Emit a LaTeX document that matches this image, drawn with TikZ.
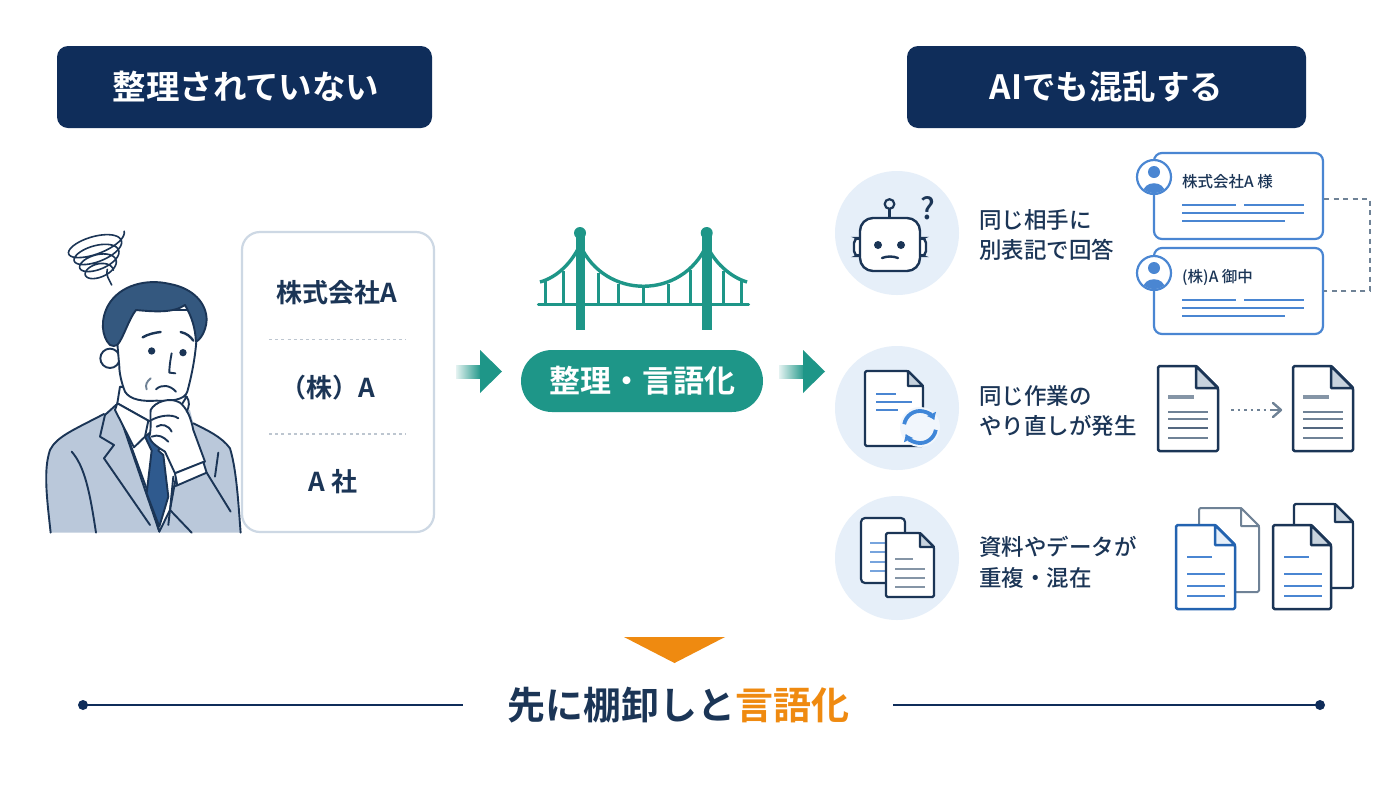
\documentclass[tikz,border=0pt]{standalone}
\usepackage{fontspec}
\setmainfont{Noto Sans CJK JP Medium}[BoldFont={Noto Sans CJK JP Bold}]
\usetikzlibrary{arrows.meta,shadings,calc}
\definecolor{navy}{HTML}{0F2D5A}
\definecolor{inkk}{HTML}{1B3556}
\definecolor{teal1}{HTML}{1E9688}
\definecolor{softb}{HTML}{E6EFF9}
\definecolor{blue1}{HTML}{4A86D2}
\definecolor{blue2}{HTML}{2363B0}
\definecolor{syncb}{HTML}{3F86D8}
\definecolor{edgeg}{HTML}{CDD8E4}
\definecolor{orng}{HTML}{EF8A10}
\definecolor{suit}{HTML}{BAC8DA}
\definecolor{hairc}{HTML}{34587F}
\definecolor{tiec}{HTML}{2F5A8E}
\definecolor{foldg}{HTML}{C8D3DE}
\definecolor{grayl}{HTML}{6F8296}
\newcommand{\fs}[1]{\fontsize{#1}{#1}\selectfont}
\tikzset{
  header/.style={fill=navy,rounded corners=11,text=white,font=\fs{33.5}\bfseries,inner sep=0,anchor=center},
  iconbg/.style={fill=softb,circle,minimum size=124,inner sep=0},
  rowtext/.style={text=inkk,font=\fs{22.5},anchor=west,inner sep=0},
  cardtext/.style={text=inkk,font=\fs{26}\bfseries,inner sep=0},
  smalltext/.style={text=inkk,font=\fs{15.5},anchor=west,inner sep=0},
  namecard/.style={draw=blue1,line width=2.2,rounded corners=8,fill=white,inner sep=0},
  person/.style={draw=inkk,line width=1.9,line join=round,line cap=round},
  bridgeline/.style={draw=teal1,line width=3.4},
  docline/.style={line width=2.3,line cap=butt},
  flowbar/.style={left color=teal1!12,right color=teal1,draw=none},
  flowhead/.style={fill=teal1,draw=none},
  bluel/.style={draw=blue1,line width=2}
}
\newcommand{\paperdoc}[8]{% x y w h fold stroke foldfill linewidth
  \filldraw[draw=#6,fill=white,line width=#8,line join=round,rounded corners=1.5]
    (#1,#2) -- ({#1+#3-#5},#2) -- ({#1+#3},{#2+#5}) -- ({#1+#3},{#2+#4}) -- (#1,{#2+#4}) -- cycle;
  \filldraw[draw=#6,fill=#7,line width=#8,line join=round]
    ({#1+#3-#5},#2) -- ({#1+#3},{#2+#5}) -- ({#1+#3-#5},{#2+#5}) -- cycle;
}
\newcommand{\avatar}[2]{%
  \filldraw[draw=blue1,fill=white,line width=2.2] (#1,#2) circle (17);
  \begin{scope}
    \clip (#1,#2) circle (16);
    \fill[blue1] (#1,{#2-5}) circle (6);
    \fill[blue1] ({#1-11},{#2+16}) .. controls ({#1-11},{#2+3}) and ({#1+11},{#2+3}) .. ({#1+11},{#2+16}) -- cycle;
  \end{scope}
}
\begin{document}
\begin{tikzpicture}[x=1pt,y=-1pt]
\path[use as bounding box,fill=white] (0,0) rectangle (1400,788);

% headers
\node[header,minimum width=375,minimum height=82] (hl) at (244.5,87) {\hspace*{3pt}整理されていない};
\node[header,minimum width=399,minimum height=82] (hr) at (1106.5,87) {AIでも混乱する};

% person
\begin{scope}[shift={(30,210)},x=0.3333pt,y=-0.3333pt]
  % scribble
  \draw[inkk,line width=1.6,line cap=round,smooth] plot[domain=0:1440,samples=170]
    ({(195+\x*0.012)+cos(18)*(92-\x*0.036)*cos(\x)+sin(18)*(34-\x*0.006)*sin(\x)},
     {(92+\x*0.07)-sin(18)*(92-\x*0.036)*cos(\x)+cos(18)*(34-\x*0.006)*sin(\x)});
  \draw[inkk,line width=1.6,line cap=round] (232,178) .. controls (225,195) and (240,212) .. (245,225);
  % jacket
  \fill[suit] (62,968) .. controls (50,860) and (40,780) .. (60,720)
     .. controls (80,680) and (130,660) .. (222,612) -- (260,585) -- (480,600) -- (490,640)
     .. controls (530,660) and (575,680) .. (600,715) .. controls (620,780) and (625,880) .. (632,968) -- cycle;
  \draw[person] (62,968) .. controls (50,860) and (40,780) .. (60,720)
     .. controls (80,680) and (130,660) .. (222,612);
  \draw[person] (490,640) .. controls (530,660) and (575,680) .. (600,715) .. controls (620,780) and (625,880) .. (632,968);
  % shirt
  \filldraw[person,fill=white] (258,585) -- (355,850) -- (388,965) -- (420,900) -- (440,790) -- (395,700) -- (360,620) -- cycle;
  % lapels
  \draw[person] (258,585) -- (225,615) -- (210,680) -- (252,705) -- (222,745) -- (360,945);
  \draw[person] (258,585) -- (388,965);
  \draw[person] (430,800) -- (420,900) -- (485,968);
  \draw[person] (420,900) -- (415,945);
  \draw[person] (125,725) .. controls (165,770) and (180,850) .. (198,968);
  \draw[person] (565,728) -- (555,800);
  % tie
  \filldraw[person,fill=tiec] (345,680) -- (360,668) -- (395,700) -- (385,722) -- (400,735) -- (415,860) -- (388,950) -- (350,850) -- (365,722) -- cycle;
  % neck + collar
  \filldraw[person,fill=white] (270,530) -- (262,580) -- (355,632) -- (420,640) -- (470,560) -- cycle;
  \filldraw[person,fill=white] (262,580) -- (355,632) -- (345,680) -- (312,712) -- (255,600) -- cycle;
  % ear
  \filldraw[person,fill=white] (240,445) circle (29);
  % face
  \filldraw[person,fill=white] (262,400) .. controls (268,370) and (290,330) .. (310,300)
    -- (500,300) .. controls (505,380) and (495,460) .. (472,545)
    .. controls (465,570) and (420,575) .. (380,572) .. controls (340,575) and (300,570) .. (285,545)
    .. controls (275,520) and (268,490) .. (268,470) -- cycle;
  % hair
  \filldraw[person,fill=hairc] (240,405) .. controls (215,380) and (210,330) .. (235,285)
    .. controls (270,225) and (350,205) .. (420,222) .. controls (490,235) and (530,280) .. (530,330)
    .. controls (528,365) and (510,390) .. (498,395) .. controls (495,350) and (485,320) .. (465,285)
    .. controls (430,310) and (370,305) .. (318,300) .. controls (295,330) and (280,385) .. (262,405) .. controls (255,410) and (248,408) .. (240,405) -- cycle;
  % facial details
  \draw[person,line width=2.4] (338,382) .. controls (355,372) and (375,368) .. (392,366);
  \draw[person,line width=2.4] (452,366) .. controls (470,370) and (482,380) .. (490,392);
  \fill[inkk] (365,423) circle (11);
  \fill[inkk] (459,428) circle (11);
  \draw[person] (425,430) .. controls (420,455) and (418,475) .. (418,488) -- (436,490);
  \draw[person] (378,538) .. controls (395,522) and (420,525) .. (438,545);
  \draw[person,draw=grayl] (362,505) .. controls (350,515) and (345,525) .. (350,538);
  % hand
  \filldraw[person,fill=white] (362,600) .. controls (375,575) and (420,560) .. (450,578)
    .. controls (470,595) and (482,620) .. (490,660) -- (525,755) -- (435,790) -- (405,725)
    .. controls (380,710) and (360,695) .. (358,680) .. controls (365,655) and (360,625) .. (362,600) -- cycle;
  \draw[person] (365,630) .. controls (385,618) and (425,610) .. (445,625);
  \draw[person] (380,650) .. controls (395,640) and (415,645) .. (425,665);
  \draw[person] (365,680) .. controls (385,672) and (400,680) .. (415,695);
  \draw[person] (470,560) .. controls (480,575) and (478,590) .. (470,605);
  % cuff + sleeve
  \filldraw[person,fill=white] (435,790) -- (520,756) -- (530,788) -- (442,826) -- cycle;
  \draw[person] (530,788) -- (602,905);
  \draw[person] (442,826) -- (430,830);
\end{scope}

% name list card
\node[draw=edgeg,line width=2.2,rounded corners=18,fill=white,minimum width=192,minimum height=300,inner sep=0] (list) at (338,382) {};
\node[cardtext] (n1) at (337,293) {株式会社A};
\node[cardtext] (n2) at (328,388) {（株）A};
\node[cardtext] (n3) at (333,482) {A 社};
\draw[edgeg!80!gray,line width=1.6,dash pattern=on 3 off 3.2] (269,339.5) -- (406,339.5);
\draw[edgeg!80!gray,line width=1.6,dash pattern=on 3 off 3.2] (269,434) -- (406,434);

% bridge
\begin{scope}[teal1]
  \fill (580,233) circle (6);
  \fill (706.7,233) circle (6);
  \fill (575.5,235) rectangle (585,330);
  \fill (702,235) rectangle (711.5,330);
  \draw[bridgeline,line cap=round] (538.5,304.7) -- (748.5,304.7);
  \draw[bridgeline] (580,245) .. controls (605,300) and (682,300) .. (706.7,245);
  \draw[bridgeline] (580,245) .. controls (572,262) and (558,277) .. (540,282);
  \draw[bridgeline] (706.7,245) .. controls (714,262) and (730,277) .. (747,282);
  \foreach \hx/\hy in {545/281,563/271,598/273,618.5/284,643/287,668.5/284,690/270,723.5/271,741.5/281}
    \draw[draw=teal1,line width=3] (\hx,\hy) -- (\hx,304.7);
\end{scope}

% pill + arrows
\node[fill=teal1,rounded corners=31,minimum width=242,minimum height=62,inner sep=0,text=white,font=\fs{31}\bfseries] (pill) at (642,381) {整理・言語化};
\fill[flowbar] (456,365) rectangle (481,378);
\fill[flowhead] (480,350) -- (502,371.5) -- (480,393) -- cycle;
\fill[flowbar] (779,365) rectangle (805,378);
\fill[flowhead] (803,350) -- (825,371.5) -- (803,393) -- cycle;

% icon backgrounds
\node[iconbg] (i1) at (897,233) {};
\node[iconbg] (i2) at (897,408) {};
\node[iconbg] (i3) at (897,558) {};

% row texts
\node[rowtext] (t11) at (979,220) {同じ相手に};
\node[rowtext] (t12) at (979,249.5) {別表記で回答};
\node[rowtext] (t21) at (979,396) {同じ作業の};
\node[rowtext] (t22) at (979,425.5) {やり直しが発生};
\node[rowtext] (t31) at (979,547) {資料やデータが};
\node[rowtext] (t32) at (979,578) {重複・混在};

% robot
\filldraw[draw=inkk,line width=2.4,fill=white,rounded corners=5] (854,238) rectangle (862,256);
\filldraw[draw=inkk,line width=2.4,fill=white,rounded corners=5] (918,238) rectangle (926,256);
\filldraw[draw=inkk,line width=2.4,fill=white,rounded corners=13] (860,218) rectangle (920,271);
\draw[inkk,line width=2.4] (889.5,218) -- (889.5,209);
\draw[inkk,line width=2.2] (889.5,204) circle (4.8);
\fill[inkk] (878,245) circle (4);
\fill[inkk] (901,245) circle (4);
\draw[inkk,line width=2.4,line cap=round] (882,258) .. controls (887,256) and (893,256) .. (898,258);
\node[text=inkk,font=\fs{30},inner sep=0] (qm) at (928,208) {?};

% name cards
\node[namecard,minimum width=169,minimum height=86] (c1) at (1238.5,196) {};
\node[namecard,minimum width=169,minimum height=86] (c2) at (1238.5,291) {};
\avatar{1154}{177}
\avatar{1154}{273}
\node[smalltext] (c1t) at (1182,182) {株式会社A 様};
\node[smalltext] (c2t) at (1182,277) {(株)A 御中};
\foreach \oy in {0,95}{
  \draw[bluel] (1182,205+\oy) -- (1236,205+\oy);
  \draw[bluel] (1244,205+\oy) -- (1304,205+\oy);
  \draw[bluel] (1182,212.5+\oy) -- (1304,212.5+\oy);
  \draw[bluel] (1182,220.5+\oy) -- (1285,220.5+\oy);
}
\coordinate (cj) at (1370,199);
\draw[grayl,line width=2,dash pattern=on 5 off 4.5] (c1.east) ++(0,3) -- (cj) -- (cj |- c2.east) -- (c2.east);

% row 2 icon
\paperdoc{865}{371}{58}{75}{15}{inkk}{foldg}{2.2}
\draw[bluel] (876,394) -- (896,394);
\draw[bluel] (876,402) -- (912,402);
\draw[bluel] (876,410) -- (898,410);
\fill[softb!55!white] (920,427) circle (20);
\draw[syncb,line width=3.8,-{Latex[length=7,width=11]}] (904.2,424.2) arc[start angle=190,end angle=335,radius=16];
\draw[syncb,line width=3.8,-{Latex[length=7,width=11]}] (935.8,429.8) arc[start angle=10,end angle=155,radius=16];

% row 2 docs
\paperdoc{1158}{366}{60}{85}{22}{inkk}{foldg}{2.5}
\paperdoc{1293}{366}{60}{85}{22}{inkk}{foldg}{2.5}
\foreach \ox in {0,135}{
  \draw[docline,grayl!85!white,line width=3.6] (1168+\ox,397) -- (1194+\ox,397);
  \draw[docline,grayl] (1168+\ox,412) -- (1208+\ox,412);
  \draw[docline,grayl] (1168+\ox,419) -- (1208+\ox,419);
  \draw[docline,inkk!75!white,line width=2.6] (1168+\ox,428) -- (1208+\ox,428);
  \draw[docline,grayl] (1168+\ox,438) -- (1208+\ox,438);
}
\coordinate (da) at (1231,410);
\coordinate (db) at (1281,410);
\draw[grayl,line width=2.4,dash pattern=on 2.5 off 4] (da) -- ($(db)+(-8,0)$);
\draw[grayl,line width=2.4,line cap=round,line join=round] (1273,403) -- (db) -- (1273,417);
\draw[grayl,line width=2.4] (1270,410) -- (db);

% row 3 icon
\filldraw[draw=inkk,line width=2.2,fill=white,rounded corners=4] (861,518) rectangle (905,583);
\foreach \ly in {543,552,562,571}
  \draw[draw=blue1,line width=2.4,opacity=.75] (870,\ly) -- (886,\ly);
\paperdoc{886}{533}{48}{64}{14}{inkk}{foldg}{2.2}
\foreach \ly/\lx in {559/913,569/925,578/925,587/925}
  \draw[docline,grayl!85!white] (895,\ly) -- (\lx,\ly);

% row 3 docs
\paperdoc{1199}{508}{60}{84}{18}{grayl}{white}{2}
\paperdoc{1176}{525}{59}{84}{20}{blue2}{softb}{2.5}
\paperdoc{1294}{504}{59}{84}{18}{inkk}{foldg}{2.2}
\paperdoc{1273}{525}{58}{84}{20}{inkk}{foldg}{2.5}
\foreach \ox in {0,97}{
  \draw[bluel,line width=2.4] (1187+\ox,557) -- (1212+\ox,557);
  \draw[bluel] (1187+\ox,574) -- (1225+\ox,574);
  \draw[bluel,line width=2.8] (1187+\ox,586) -- (1225+\ox,586);
  \draw[bluel] (1187+\ox,596) -- (1225+\ox,596);
}

% bottom
\fill[orng] (624,637) -- (725,637) -- (674.5,663) -- cycle;
\node[inner sep=0,font=\fs{38}\bfseries,text=inkk] (bottom) at (678,705) {先に棚卸しと\textcolor{orng}{言語化}};
\coordinate (l1) at (83,705);
\coordinate (l2) at (463,705);
\coordinate (r1) at (893,705);
\coordinate (r2) at (1320,705);
\draw[navy,line width=2] (l1) -- (l2);
\draw[navy,line width=2] (r1) -- (r2);
\fill[navy] (l1) circle (5);
\fill[navy] (r2) circle (5);
\end{tikzpicture}
\end{document}
